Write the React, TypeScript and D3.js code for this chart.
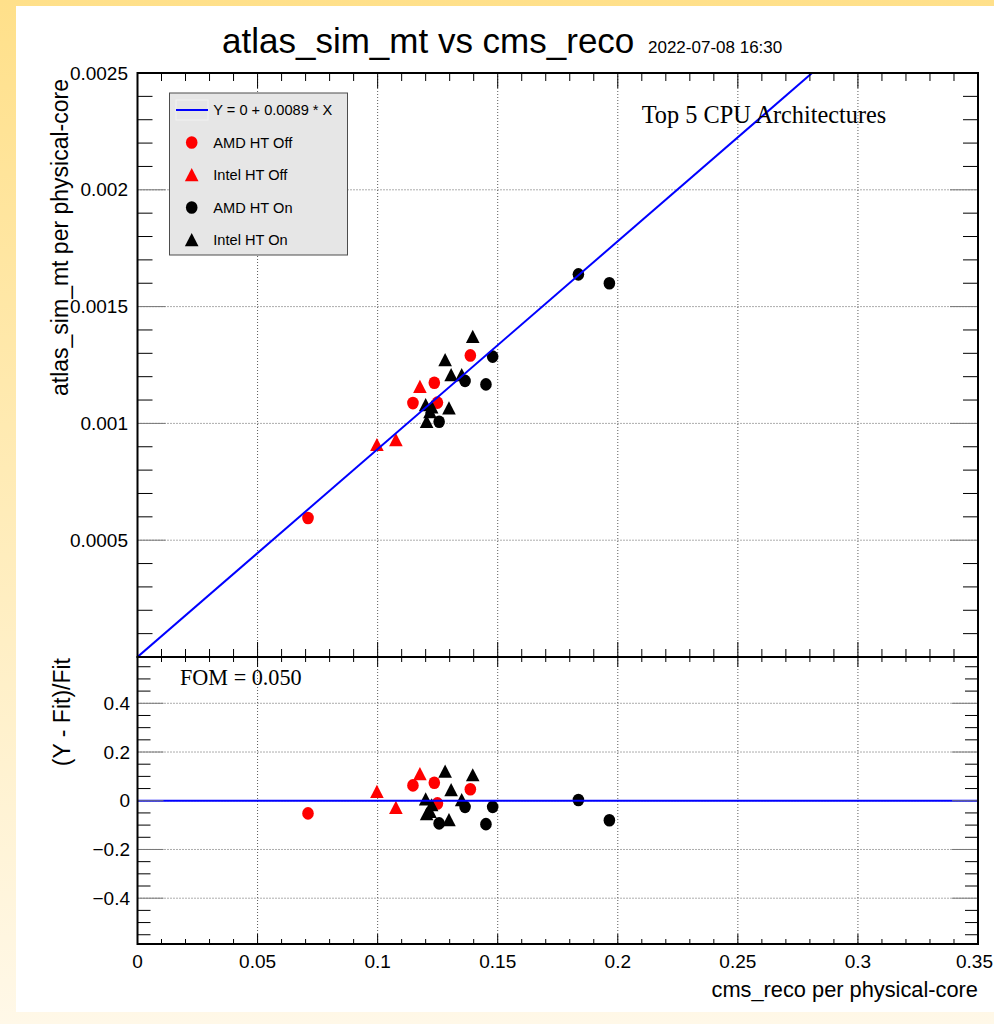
import React from "react";
import * as d3 from "d3";

// fit: Y = p0 + p1 * X
const fitParams = [0, 0.0089];

// AMD HT Off (red circles)
const amdOffX = [0.071, 0.1147, 0.1236, 0.1249, 0.1386];
const amdOffY = [0.000595, 0.001087, 0.001174, 0.001089, 0.001291];
const amdOffR = [-0.052, 0.063, 0.074, -0.011, 0.047];

// Intel HT Off (red triangles)
const intelOffX = [0.0997, 0.1076, 0.1176];
const intelOffY = [0.000908, 0.000929, 0.001157];
const intelOffR = [0.037, -0.029, 0.11];

// AMD HT On (black circles)
const amdOnX = [0.1256, 0.1364, 0.1451, 0.1479, 0.1836, 0.1965];
const amdOnY = [0.001007, 0.001182, 0.001167, 0.001286, 0.001638, 0.0016];
const amdOnR = [-0.093, -0.025, -0.096, -0.025, 0.003, -0.08];

// Intel HT On (black triangles)
const intelOnX = [0.1396, 0.1281, 0.1306, 0.135, 0.12, 0.1225, 0.1297, 0.1204, 0.1218];
const intelOnY = [0.001371, 0.001271, 0.001207, 0.001207, 0.001079, 0.001069, 0.001065, 0.001007, 0.001049];
const intelOnR = [0.105, 0.12, 0.044, 0.003, 0.006, -0.018, -0.079, -0.055, -0.045];

const xTicks = [0, 0.05, 0.1, 0.15, 0.2, 0.25, 0.3, 0.35];
const xTickLabels = ["0", "0.05", "0.1", "0.15", "0.2", "0.25", "0.3", "0.35"];
const yTopTicks = [0.0005, 0.001, 0.0015, 0.002, 0.0025];
const yTopTickLabels = ["0.0005", "0.001", "0.0015", "0.002", "0.0025"];
const yBotTicks = [-0.4, -0.2, 0, 0.2, 0.4];
const yBotTickLabels = ["\u22120.4", "\u22120.2", "0", "0.2", "0.4"];

const legendLabels = ["Y = 0 + 0.0089 * X", "AMD HT Off", "Intel HT Off", "AMD HT On", "Intel HT On"];

const W = 994, H = 1024;
const L = 137.5, R = 978;
const T1 = 73, B1 = 657, B2 = 944;

const sans = "'Liberation Sans', Arial, Helvetica, sans-serif";
const serif = "'Liberation Serif', 'Times New Roman', serif";

const x = d3.scaleLinear().domain([0, 0.35]).range([L, R]);
const yTop = d3.scaleLinear().domain([0, 0.0025]).range([B1, T1]);
const yBot = d3.scaleLinear().domain([-0.588, 0.59]).range([B2, B1]);

const xMinor = d3.range(0, 0.3501, 0.01);
const yTopMinor = d3.range(0, 0.00251, 0.0001);
const yBotMinor = d3.range(-0.55, 0.56, 0.05);

const Circle = ({cx, cy, fill}: any) => <ellipse cx={cx} cy={cy} rx={5.8} ry={6.3} fill={fill}/>;
const Tri = ({cx, cy, fill}: any) => (
    <path d={`M${cx},${cy - 7}L${cx + 6.8},${cy + 6.2}L${cx - 6.8},${cy + 6.2}Z`} fill={fill}/>
);

const series = [
    {xs: amdOffX, ys: amdOffY, rs: amdOffR, fill: "#ff0000", M: Circle},
    {xs: intelOffX, ys: intelOffY, rs: intelOffR, fill: "#ff0000", M: Tri},
    {xs: amdOnX, ys: amdOnY, rs: amdOnR, fill: "#000000", M: Circle},
    {xs: intelOnX, ys: intelOnY, rs: intelOnR, fill: "#000000", M: Tri},
];

const grid = {stroke: "#5a5a5a", strokeWidth: 1, strokeDasharray: "1 2"};

function Frame({top, bottom, yScale, majors, minors, xMaj, xMin, yMaj, yMin}: any) {
    return (
        <g>
            {xMinor.map((v, i) => {
                const px = x(v);
                const isMaj = xTicks.some(t => Math.abs(t - v) < 1e-9);
                const len = isMaj ? xMaj : xMin;
                return (
                    <g key={"xt" + i} stroke="#000" strokeWidth={1}>
                        <line x1={px} x2={px} y1={bottom} y2={bottom - len}/>
                        <line x1={px} x2={px} y1={top} y2={top + len}/>
                    </g>
                );
            })}
            {minors.map((v: number, i: number) => {
                const py = yScale(v);
                if (py < top - 0.5 || py > bottom + 0.5) return null;
                const isMaj = majors.some((t: number) => Math.abs(t - v) < 1e-9);
                const len = isMaj ? yMaj : yMin;
                const col = isMaj ? "#777" : "#000";
                return (
                    <g key={"yt" + i} stroke={col} strokeWidth={1}>
                        <line x1={L} x2={L + len} y1={py} y2={py}/>
                        <line x1={R} x2={R - len} y1={py} y2={py}/>
                    </g>
                );
            })}
            <rect x={L} y={top} width={R - L} height={bottom - top} fill="none" stroke="#000" strokeWidth={2}/>
        </g>
    );
}

export default function App() {
    const xEnd = Math.min(0.35, (0.0025 - fitParams[0]) / fitParams[1]);
    const lx = 176, ly = 93, lw = 172, lh = 162;
    const rowY = (i: number) => 110 + i * 32.5;

    return (
        <div style={{position: "absolute", left: 0, top: 0}}>
            <svg width={W} height={H} style={{display: "block"}}>
                <defs>
                    <linearGradient id="bg" x1="0" y1="0" x2="0" y2="1">
                        <stop offset="0" stopColor="#ffe08a"/>
                        <stop offset="1" stopColor="#fff8e8"/>
                    </linearGradient>
                    <clipPath id="clipTop">
                        <rect x={L} y={T1} width={R - L} height={B1 - T1}/>
                    </clipPath>
                </defs>
                <rect x={0} y={0} width={W} height={H} fill="url(#bg)"/>
                <rect x={16} y={6} width={W - 16} height={1006} fill="#fff"/>

                {/* grids */}
                {xTicks.slice(1, -1).map((v, i) => (
                    <g key={"gx" + i}>
                        <line x1={x(v)} x2={x(v)} y1={T1} y2={B1} {...grid}/>
                        <line x1={x(v)} x2={x(v)} y1={B1} y2={B2} {...grid}/>
                    </g>
                ))}
                {yTopTicks.slice(0, -1).map((v, i) => (
                    <line key={"gyt" + i} x1={L} x2={R} y1={yTop(v)} y2={yTop(v)} {...grid}/>
                ))}
                {yBotTicks.map((v, i) => (
                    <line key={"gyb" + i} x1={L} x2={R} y1={yBot(v)} y2={yBot(v)} {...grid}/>
                ))}

                {/* markers */}
                {series.map((s, si) => (
                    <g key={"s" + si}>
                        {s.xs.map((v, i) => <s.M key={"t" + i} cx={x(v)} cy={yTop(s.ys[i])} fill={s.fill}/>)}
                        {s.xs.map((v, i) => <s.M key={"b" + i} cx={x(v)} cy={yBot(s.rs[i])} fill={s.fill}/>)}
                    </g>
                ))}

                {/* fit lines */}
                <g clipPath="url(#clipTop)">
                    <line x1={x(0)} y1={yTop(fitParams[0])} x2={x(xEnd)} y2={yTop(fitParams[0] + fitParams[1] * xEnd)}
                          stroke="#0000ff" strokeWidth={2}/>
                </g>
                <line x1={L} x2={R} y1={yBot(0)} y2={yBot(0)} stroke="#0000ff" strokeWidth={2}/>

                <Frame top={T1} bottom={B1} yScale={yTop} majors={yTopTicks} minors={yTopMinor}
                       xMaj={15} xMin={8} yMaj={28} yMin={15}/>
                <Frame top={B1} bottom={B2} yScale={yBot} majors={yBotTicks} minors={yBotMinor}
                       xMaj={10} xMin={5} yMaj={26} yMin={13}/>

                {/* tick labels */}
                <g fontFamily={sans} fontSize={19} fill="#000">
                    {xTicks.map((v, i) => {
                        const last = i === xTicks.length - 1;
                        return (
                            <text key={"xl" + i} x={last ? 993 : x(v)} y={968}
                                  textAnchor={last ? "end" : "middle"}>{xTickLabels[i]}</text>
                        );
                    })}
                    {yTopTicks.map((v, i) => (
                        <text key={"ytl" + i} x={128} y={yTop(v)} dy="0.35em" textAnchor="end">{yTopTickLabels[i]}</text>
                    ))}
                    {yBotTicks.map((v, i) => (
                        <text key={"ybl" + i} x={130} y={yBot(v)} dy="0.35em" textAnchor="end">{yBotTickLabels[i]}</text>
                    ))}
                </g>

                {/* titles */}
                <text x={222} y={53} fontFamily={sans} fontSize={35}>atlas_sim_mt vs cms_reco</text>
                <text x={648} y={53} fontFamily={sans} fontSize={17}>2022-07-08 16:30</text>
                <text x={978} y={997} textAnchor="end" fontFamily={sans} fontSize={21.8}>cms_reco per physical-core</text>
                <text transform="translate(68,79) rotate(-90)" textAnchor="end" fontFamily={sans} fontSize={23}>
                    atlas_sim_mt per physical-core
                </text>
                <text transform="translate(70,658) rotate(-90)" textAnchor="end" fontFamily={sans} fontSize={23}>
                    (Y - Fit)/Fit
                </text>
                <text x={641.7} y={123} fontFamily={serif} fontSize={24.3}>Top 5 CPU Architectures</text>
                <text x={180} y={684.5} fontFamily={serif} fontSize={22.2}>FOM = 0.050</text>

                {/* legend */}
                <rect x={lx - 6.5} y={ly} width={lw + 6} height={lh} fill="#e6e6e6" stroke="#4d4d4d" strokeWidth={1}/>
                <rect x={176} y={rowY(0) - 10} width={32} height={20} fill="none" stroke="#f2f2f2" strokeWidth={1}/>
                <line x1={176} x2={208} y1={rowY(0)} y2={rowY(0)} stroke="#0000ff" strokeWidth={2}/>
                {series.map((s, i) => <s.M key={"lg" + i} cx={191.7} cy={rowY(i + 1)} fill={s.fill}/>)}
                {legendLabels.map((t, i) => (
                    <text key={"lt" + i} x={213.3} y={rowY(i)} dy="0.35em" fontFamily={sans} fontSize={14.6}>{t}</text>
                ))}
            </svg>
        </div>
    );
}
